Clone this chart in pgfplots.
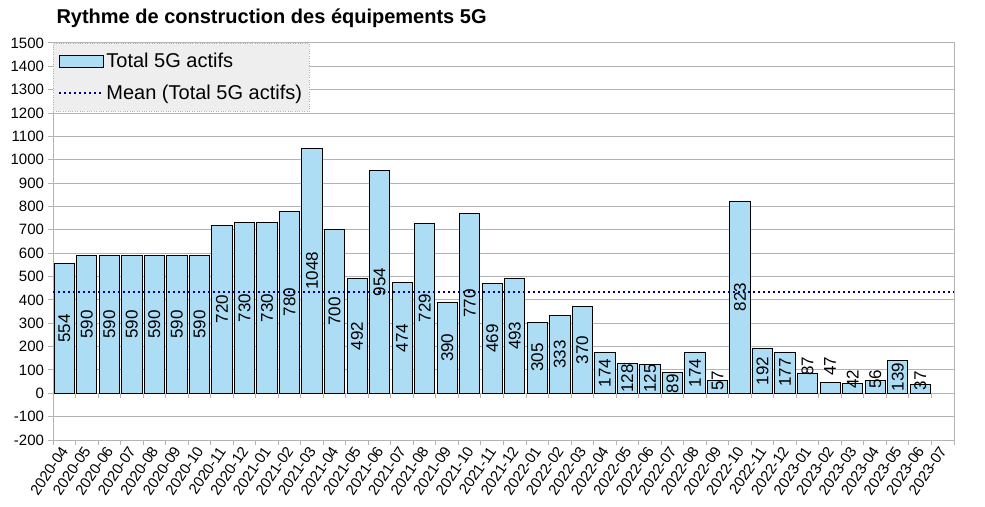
\documentclass[border=0pt]{standalone}
\usepackage{fontspec}
\setmainfont{Liberation Sans}
\usepackage{pgfplots}
\pgfplotsset{compat=1.18}
\usepackage{pgfplotstable}
\definecolor{barblue}{RGB}{173,220,245}
\definecolor{navyblue}{RGB}{0,0,128}
\definecolor{gridgray}{RGB}{179,179,179}
\definecolor{legfill}{RGB}{238,238,238}
\pgfplotsset{
  barlegend/.style={legend image code/.code={\draw[##1] (0bp,-6bp) rectangle (44bp,6bp);}},
  linelegend/.style={legend image code/.code={\draw[##1] (0bp,0bp) -- (44bp,0bp);}},
}
\pgfplotstableread{
x y ly
0 554 277
1 590 295
2 590 295
3 590 295
4 590 295
5 590 295
6 590 295
7 720 360
8 730 365
9 730 365
10 780 390
11 1048 524
12 700 350
13 492 246
14 954 477
15 474 237
16 729 364.5
17 390 195
18 770 385
19 469 234.5
20 493 246.5
21 305 152.5
22 333 166.5
23 370 185
24 174 87
25 128 64
26 125 62.5
27 89 40
28 174 87
29 57 53
30 823 411.5
31 192 96
32 177 88.5
33 87 116
34 47 116
35 42 60
36 56 60
37 139 69.5
38 37 53
}\datatable
\begin{document}
\begin{tikzpicture}
\useasboundingbox (-53bp,-67bp) rectangle (932bp,440bp);
\begin{axis}[
  at={(0,0)}, anchor=south west,
  scale only axis, width=901bp, height=397bp,
  xmin=-0.5, xmax=39.5, ymin=-200, ymax=1500,
  ytick={-200,-100,...,1500},
  xtick={0,...,39},
  xticklabels={2020-04,2020-05,2020-06,2020-07,2020-08,2020-09,2020-10,2020-11,2020-12,2021-01,2021-02,2021-03,2021-04,2021-05,2021-06,2021-07,2021-08,2021-09,2021-10,2021-11,2021-12,2022-01,2022-02,2022-03,2022-04,2022-05,2022-06,2022-07,2022-08,2022-09,2022-10,2022-11,2022-12,2023-01,2023-02,2023-03,2023-04,2023-05,2023-06,2023-07},
  minor xtick={-0.5,0.5,...,39.5},
  major x tick style={draw=none},
  minor x tick style={draw=gridgray, line width=1bp},
  ytick style={draw=gridgray, line width=1bp},
  major tick length=5bp, minor tick length=5bp,
  tick align=outside,
  xtick pos=lower, ytick pos=left,
  ymajorgrids,
  grid style={draw=gridgray, line width=1bp},
  axis line style={draw=gridgray, line width=1bp},
  /pgf/number format/assume math mode=true,
  /pgf/number format/1000 sep={},
  yticklabel style={font=\fontsize{15bp}{17bp}\selectfont, text=black, xshift=-0.5bp},
  xticklabel style={font=\fontsize{15bp}{17bp}\selectfont, text=black, rotate=56, anchor=east, yshift=-2bp, xshift=1bp},
  title={Rythme de construction des équipements 5G},
  title style={at={(0,1)}, anchor=base west, xshift=0bp, yshift=14bp, font=\bfseries\fontsize{20bp}{23bp}\selectfont},
  legend style={at={(0,1)}, anchor=north west, fill=legfill, draw=gridgray, dotted,
    font=\fontsize{20bp}{23bp}\selectfont, inner xsep=5bp, inner ysep=8bp, row sep=12bp},
  legend cell align=left,
]
\addplot[ybar, bar width=0.9, fill=barblue, draw=black, line width=0.9bp, solid, barlegend]
  table[x=x,y=y]{\datatable};
\addlegendentry{Total 5G actifs}
\addplot[navyblue, line width=2.2bp, dash pattern=on 2.2bp off 2.8bp, linelegend]
  coordinates {(-0.5,434.05) (39.5,434.05)};
\addlegendentry{Mean (Total 5G actifs)}
\addplot[draw=none, mark=none, forget plot, nodes near coords, point meta=explicit,
  nodes near coords style={rotate=90, anchor=center, font=\fontsize{17bp}{19bp}\selectfont, text=black}]
  table[x=x,y=ly,meta=y]{\datatable};
\pgfplotsinvokeforeach{-0.5,0.5,...,39.5}{
  \draw[gridgray, line width=1bp] (axis cs:#1,0) -- ([yshift=-5bp]axis cs:#1,0);
}
\end{axis}
\end{tikzpicture}
\end{document}
